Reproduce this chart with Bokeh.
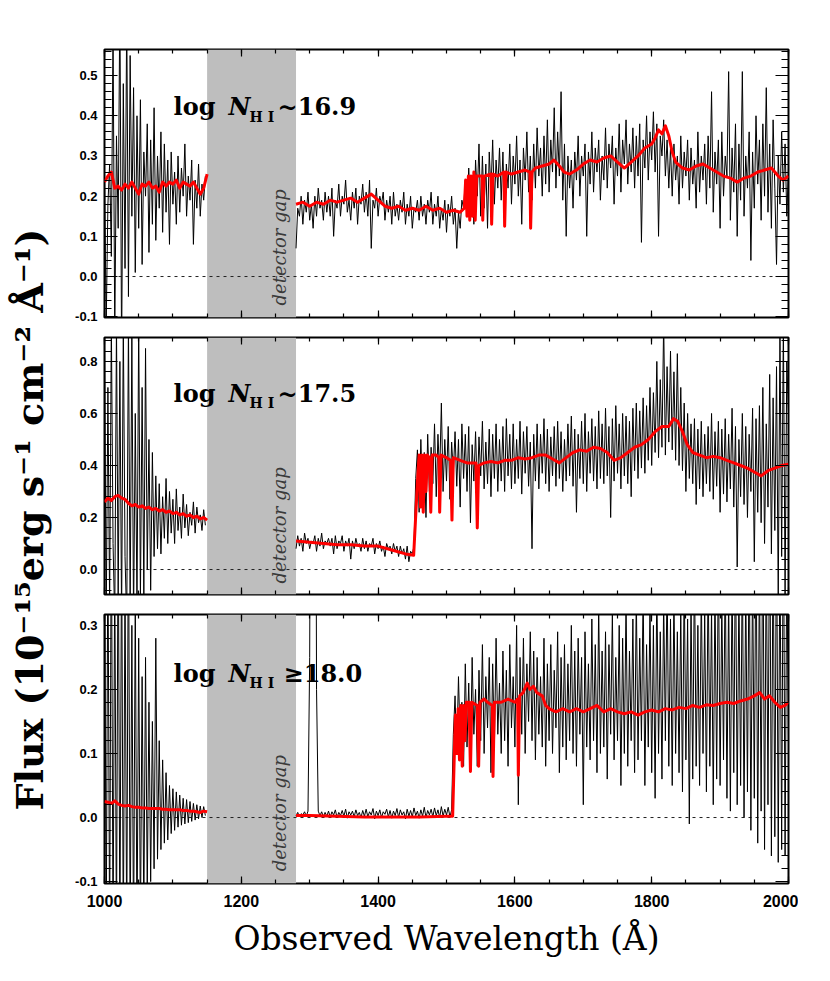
import numpy as np
from bokeh.plotting import figure
from bokeh.layouts import row, column
from bokeh.models import (Range1d, SingleIntervalTicker, LinearAxis,
                          PrintfTickFormatter, CustomJSTickFormatter,
                          BoxAnnotation, Span)
from bokeh.core.properties import value
from bokeh.embed import file_html
from bokeh.resources import INLINE

# ---------------------------------------------------------------- data
WAVE_RANGE = (1000, 2000)
GAP = (1150, 1280)

# observed spectra, sampled every 2.5 A (blue side 1000-1147.5, red side 1280-2000)
blue_wave = np.arange(1000, 1150, 2.5)
red_wave = np.arange(1280, 2000.1, 2.5)

flux1_blue = [.26, -.12, .18, .28, .05, .62, -.15, .35, .12, .70, -.2, .48, .02, .66, -.05, .55, .15, .47, .01, .40,
              .12, .44, .03, .31, .20, .38, .06, .34, .13, .42, .09, .30, .17, .36, .11, .33, .16, .29, .08, .31,
              .18, .26, .13, .30, .16, .27, .20, .33, .15, .25, .19, .29, .08, .24, .17, .28, .15, .23, .19, .25]
flux1_red = [.07, .17, .15, .20, .13, .19, .16, .21, .14, .18, .12, .20, .15, .22, .17, .19, .14, .21, .16, .20,
             .15, .22, .10, .19, .17, .23, .15, .20, .18, .24, .16, .19, .14, .21, .17, .22, .13, .20, .18, .23,
             .16, .21, .15, .24, .07, .19, .17, .22, .15, .20, .18, .21, .14, .19, .16, .20, .13, .21, .15, .18,
             .14, .19, .16, .21, .13, .18, .15, .20, .12, .17, .16, .19, .14, .20, .15, .18, .13, .19, .16, .21,
             .13, .18, .15, .20, .12, .17, .14, .19, .11, .18, .15, .20, .13, .17, .07, .16, .12, .19, .17, .24,
             .15, .27, .18, .25, .13, .29, .20, .33, .15, .30, .17, .28, .12, .31, .21, .34, .18, .29, .22, .32,
             .19, .31, .14, .28, .22, .33, .18, .30, .23, .35, .20, .29, .13, .32, .24, .36, .21, .30, .19, .33,
             .22, .37, .25, .32, .20, .35, .23, .39, .21, .34, .26, .42, .22, .36, .25, .46, .19, .33, .10, .30,
             .22, .29, .17, .31, .24, .35, .20, .30, .25, .33, .10, .31, .23, .36, .21, .32, .26, .34, .19, .30,
             .24, .37, .22, .33, .27, .35, .18, .32, .25, .38, .21, .34, .28, .39, .23, .33, .26, .37, .22, .35,
             .25, .38, .085, .34, .27, .40, .24, .36, .29, .41, .26, .38, .10, .35, .30, .39, .25, .34, .22, .32,
             .20, .33, .24, .30, .18, .35, .22, .31, .25, .34, .19, .32, .23, .29, .17, .36, .21, .30, .24, .33,
             .18, .35, .22, .46, .16, .31, .23, .34, .12, .36, .20, .30, .25, .51, .14, .32, .21, .38, .10, .33,
             .19, .51, .15, .30, .22, .36, .04, .31, .17, .40, .23, .34, .14, .38, .20, .47, .16, .33, .12, .39,
             .22, .03, .30, .18, .36, .21, .33, .15, .27]

flux2_blue = [.95, -.2, .7, -.15, .95, .1, -.2, .95, -.12, .8, -.2, .95, .05, -.2, .95, -.15, .9, -.2, .6, -.15,
              .95, -.12, .7, -.1, .85, .0, .5, -.08, .45, .05, .36, .08, .33, .06, .28, .12, .35, .10, .30, .14,
              .27, .10, .31, .15, .24, .12, .29, .16, .25, .13, .22, .17, .26, .14, .24, .18, .21, .15, .23, .17]
flux2_red = [.08, .13, .09, .12, .07, .14, .10, .12, .08, .11, .10, .13, .07, .12, .09, .14, .08, .11, .10, .12,
             .09, .12, .06, .13, .08, .11, .10, .13, .07, .11, .09, .12, .04, .11, .08, .12, .09, .10, .07, .12,
             .08, .11, .07, .10, .09, .12, .06, .10, .08, .11, .07, .09, .05, .10, .08, .09, .06, .10, .07, .09,
             .05, .09, .06, .08, .04, .09, .03, .07, .06, .09, .35, .46, .22, .50, .28, .45, .20, .52, .30, .47,
             .33, .56, .28, .52, .36, .64, .30, .50, .34, .55, .27, .49, .37, .53, .32, .50, .24, .56, .35, .52,
             .30, .55, .18, .48, .34, .53, .29, .51, .36, .57, .31, .49, .33, .54, .28, .52, .35, .56, .30, .50,
             .34, .55, .30, .58, .36, .52, .31, .56, .33, .50, .35, .57, .29, .53, .37, .55, .32, .49, .08, .52,
             .34, .56, .31, .52, .37, .58, .33, .54, .30, .51, .36, .55, .32, .57, .35, .53, .30, .50, .34, .56,
             .36, .59, .32, .54, .22, .52, .35, .57, .33, .60, .30, .53, .37, .58, .34, .55, .31, .61, .35, .56,
             .33, .62, .36, .55, .20, .58, .34, .63, .37, .56, .31, .60, .36, .59, .33, .57, .28, .62, .38, .64,
             .35, .61, .39, .66, .37, .63, .42, .70, .40, .68, .45, .80, .43, .73, .47, .95, .44, .78, .49, .84,
             .46, .76, .42, .83, .40, .70, .38, .64, .30, .60, .35, .56, .33, .58, .25, .54, .31, .57, .28, .52,
             .33, .55, .30, .60, .27, .53, .32, .57, .22, .54, .29, .58, .26, .52, .31, .62, .24, .55, .01, .50,
             .28, .60, .25, .55, .20, .52, .30, .62, .03, .58, .22, .63, .18, .70, .10, .56, .24, .75, .06, .66,
             .15, .78, -.12, .92, .05, .95, -.1, .8, .6]

flux3_blue = [.5, -.2, .45, -.2, .5, -.2, .4, -.2, .5, -.2, .45, -.2, .38, -.2, .5, -.2, .3, -.2, .35, -.2,
              .28, -.18, .22, -.15, .25, -.12, .18, -.1, .15, -.08, .28, -.065, .12, -.05, .09, -.04, .07, -.035, .05, -.025,
              .045, -.02, .04, -.015, .035, -.012, .03, -.01, .028, -.008, .025, -.006, .022, -.004, .02, -.002, .018, .0, .017, .003]
flux3_red = [.003, .008, .001, .006, .004, .009, .002, .01, .25, 1.2, 1.2, 1.2, .2, .01, .003, .009, .001, .008, .002, .01,
             .001, .009, .004, .012, .0, .008, .003, .011, .002, .013, -.001, .009, .004, .01, .001, .012, .003, .008, .0, .011,
             .002, .013, .001, .009, .004, .014, -.002, .01, .003, .012, .0, .009, .005, .013, .001, .011, -.001, .01, .003, .014,
             .0, .012, .004, .009, -.002, .013, .002, .011, .001, .015, .003, .01, -.001, .012, .002, .016, .0, .011, .004, .013,
             .001, .015, .003, .012, .0, .017, .002, .013, .004, .016, .001, .012, .13, .19, .10, .22, .12, .18, .08, .24,
             .11, .21, .09, .25, .13, .20, .08, .23, .12, .27, .10, .22, .14, .25, .07, .24, .11, .28, .13, .21,
             .10, .26, .12, .23, .08, .27, .14, .22, .11, .30, .02, .25, .13, .28, .10, .24, .15, .29, .12, .26,
             .09, .25, .13, .22, .11, .28, .08, .24, .12, .27, .10, .23, .14, .29, .07, .25, .11, .27, .09, .24,
             .12, .30, .10, .26, .08, .28, .13, .25, .02, .29, .11, .24, .09, .31, .12, .27, .07, .33, .10, .26,
             .11, .29, .06, .27, .13, .32, .09, .25, .12, .30, .05, .28, .10, .34, .08, .26, .12, .31, .07, .35,
             .09, .28, .12, .36, .05, .27, .11, .33, .07, .30, .03, .37, .10, .29, .06, .34, .12, .38, .08, .31,
             .05, .35, .10, .29, .07, .33, .04, .38, .09, .31, -.01, .34, .06, .40, .08, .30, .05, .36, .10, .32,
             .04, .39, .08, .33, .02, .36, .06, .42, .05, .34, .09, .40, .03, .35, .01, .38, .07, .44, .02, .36,
             .05, .41, .00, .37, .04, .45, -.02, .39, .03, .48, -.04, .40, .01, .50, -.05, .43, .02, .52, -.06, .46,
             -.03, .49, -.07, .44, -.05, .52, -.06, .41, .12]

# model (red) spectra: blue side every 5 A, red side as (wavelength, flux) pairs
model_blue_wave = np.arange(1000, 1151, 5)
model1_blue = [0.235, 0.25, 0.26, 0.22, 0.225, 0.215, 0.23, 0.22, 0.235, 0.22,
               0.205, 0.23, 0.225, 0.235, 0.22, 0.225, 0.21, 0.235, 0.225, 0.235,
               0.23, 0.24, 0.22, 0.235, 0.23, 0.225, 0.235, 0.22, 0.205, 0.22, 0.255]
model2_blue = [0.26, 0.275, 0.265, 0.28, 0.285, 0.275, 0.27, 0.255, 0.245, 0.25,
               0.24, 0.245, 0.235, 0.24, 0.23, 0.235, 0.225, 0.23, 0.22, 0.225,
               0.215, 0.22, 0.21, 0.215, 0.205, 0.21, 0.2, 0.205, 0.195, 0.2, 0.19]
model3_blue = [0.025, 0.024, 0.022, 0.026, 0.021, 0.019, 0.018, 0.019, 0.017, 0.016,
               0.016, 0.015, 0.015, 0.014, 0.014, 0.014, 0.014, 0.013, 0.013, 0.012,
               0.012, 0.012, 0.012, 0.011, 0.011, 0.010, 0.010, 0.009, 0.008, 0.010, 0.009]

model1_red = [(1280, 0.18), (1290, 0.185), (1300, 0.175), (1310, 0.185), (1320, 0.18),
              (1330, 0.19), (1340, 0.185), (1350, 0.19), (1360, 0.195), (1370, 0.185),
              (1380, 0.195), (1390, 0.205), (1400, 0.19), (1410, 0.175), (1420, 0.17),
              (1430, 0.175), (1440, 0.165), (1450, 0.17), (1460, 0.165), (1470, 0.175),
              (1480, 0.165), (1490, 0.17), (1500, 0.16), (1510, 0.165), (1520, 0.16),
              (1526, 0.17), (1528, 0.24), (1530, 0.15), (1532, 0.25), (1534, 0.14),
              (1536, 0.25), (1538, 0.15), (1540, 0.26), (1542, 0.14), (1544, 0.25),
              (1552, 0.25), (1553, 0.14), (1555, 0.25), (1565, 0.255), (1566, 0.13),
              (1568, 0.255), (1575, 0.25), (1584, 0.26), (1585, 0.125), (1587, 0.26),
              (1595, 0.255), (1605, 0.26), (1615, 0.265), (1622, 0.26), (1623, 0.12),
              (1625, 0.26), (1630, 0.27), (1640, 0.275), (1650, 0.28), (1657, 0.29),
              (1665, 0.275), (1672, 0.26), (1680, 0.255), (1690, 0.265), (1700, 0.28),
              (1710, 0.29), (1720, 0.285), (1730, 0.295), (1740, 0.30), (1750, 0.285),
              (1760, 0.27), (1770, 0.285), (1780, 0.30), (1790, 0.32), (1800, 0.33),
              (1805, 0.345), (1810, 0.365), (1815, 0.355), (1820, 0.375), (1825, 0.35),
              (1830, 0.31), (1835, 0.285), (1845, 0.27), (1855, 0.265), (1865, 0.275),
              (1875, 0.28), (1885, 0.27), (1895, 0.26), (1905, 0.25), (1915, 0.245),
              (1925, 0.235), (1935, 0.245), (1945, 0.25), (1955, 0.26), (1965, 0.265),
              (1975, 0.27), (1985, 0.25), (1992, 0.24), (2000, 0.25)]
model2_red = [(1280, 0.11), (1300, 0.105), (1320, 0.10), (1340, 0.095), (1360, 0.095),
              (1380, 0.09), (1400, 0.09), (1420, 0.075), (1440, 0.06), (1452, 0.055),
              (1458, 0.36), (1460, 0.44), (1462, 0.24), (1464, 0.44), (1466, 0.22),
              (1468, 0.44), (1470, 0.30), (1472, 0.44), (1475, 0.43), (1477, 0.22),
              (1479, 0.44), (1485, 0.44), (1489, 0.43), (1490, 0.22), (1492, 0.44),
              (1500, 0.43), (1506, 0.42), (1508, 0.19), (1510, 0.43), (1520, 0.42),
              (1530, 0.41), (1540, 0.41), (1543, 0.41), (1545, 0.16), (1547, 0.40),
              (1555, 0.41), (1565, 0.415), (1575, 0.41), (1585, 0.42), (1595, 0.42),
              (1605, 0.43), (1615, 0.425), (1625, 0.43), (1635, 0.44), (1645, 0.44),
              (1655, 0.425), (1665, 0.41), (1675, 0.43), (1685, 0.45), (1695, 0.46),
              (1705, 0.455), (1715, 0.47), (1725, 0.465), (1735, 0.45), (1745, 0.42),
              (1755, 0.43), (1765, 0.45), (1775, 0.47), (1785, 0.48), (1795, 0.50),
              (1805, 0.53), (1815, 0.55), (1825, 0.55), (1832, 0.58), (1838, 0.57),
              (1845, 0.53), (1852, 0.48), (1860, 0.45), (1870, 0.44), (1880, 0.43),
              (1890, 0.435), (1900, 0.43), (1910, 0.42), (1920, 0.41), (1930, 0.40),
              (1940, 0.39), (1950, 0.375), (1960, 0.36), (1970, 0.38), (1980, 0.39),
              (1990, 0.40), (2000, 0.405)]
model3_red = [(1280, 0.003), (1300, 0.003), (1340, 0.002), (1380, 0.001), (1420, 0.001),
              (1460, 0.001), (1500, 0.002), (1509, 0.002), (1513, 0.16), (1515, 0.10),
              (1517, 0.17), (1519, 0.09), (1521, 0.175), (1523, 0.08), (1525, 0.175),
              (1527, 0.12), (1529, 0.18), (1533, 0.18), (1535, 0.072), (1537, 0.18),
              (1545, 0.175), (1547, 0.08), (1549, 0.18), (1555, 0.185), (1560, 0.18),
              (1567, 0.175), (1568, 0.064), (1570, 0.18), (1580, 0.18), (1590, 0.185),
              (1600, 0.18), (1604, 0.185), (1605, 0.066), (1607, 0.19), (1612, 0.195),
              (1618, 0.21), (1622, 0.20), (1627, 0.205), (1632, 0.195), (1640, 0.19),
              (1645, 0.175), (1650, 0.17), (1660, 0.165), (1670, 0.17), (1680, 0.165),
              (1690, 0.17), (1700, 0.165), (1710, 0.17), (1720, 0.175), (1730, 0.165),
              (1740, 0.17), (1750, 0.165), (1760, 0.162), (1770, 0.165), (1780, 0.16),
              (1790, 0.165), (1800, 0.168), (1810, 0.165), (1820, 0.17), (1830, 0.168),
              (1840, 0.172), (1850, 0.17), (1860, 0.175), (1870, 0.172), (1880, 0.176),
              (1890, 0.175), (1900, 0.178), (1910, 0.18), (1920, 0.178), (1930, 0.182),
              (1940, 0.185), (1950, 0.19), (1958, 0.195), (1965, 0.185), (1972, 0.19),
              (1980, 0.18), (1988, 0.172), (1995, 0.175), (2000, 0.18)]

panel_values = ["~16.9", "~17.5", "\u226518.0"]
y_ranges = [(-0.102, 0.565), (-0.096, 0.892), (-0.103, 0.317)]
y_major = [0.1, 0.2, 0.1]
x_tick_step = 200

ylabel_text = "Flux (10\u207b\u00b9\u2075erg s\u207b\u00b9 cm\u207b\u00b2 \u00c5\u207b\u00b9)"
xlabel_text = "Observed Wavelength (\u00c5)"

# ---------------------------------------------------------------- layout / style
FRAME_W = 684
LEFT_W = 56
frame_heights = [268, 257, 269]
borders_top = [49, 10, 10]
borders_bottom = [10, 10, 80]
label_pos_y = [0.422, 0.677, 0.225]
gap_text_x = 1256
gap_text_y = [-0.072, -0.054, -0.084]
value_offsets = [104, 104, 110]
SERIF = "DejaVu Serif"
SANS = "Liberation Sans"
EMPTY = CustomJSTickFormatter(code="return ''")


def style_axis(ax, major_len, minor_len, labels, font_size, standoff=7):
    ax.major_tick_in = major_len
    ax.major_tick_out = 0
    ax.minor_tick_in = minor_len
    ax.minor_tick_out = 0
    ax.major_tick_line_width = 1.2
    ax.minor_tick_line_width = 1.2
    ax.major_tick_line_color = "black"
    ax.minor_tick_line_color = "black"
    ax.axis_line_color = None
    if labels:
        ax.major_label_text_font = SANS
        ax.major_label_text_font_style = "bold"
        ax.major_label_text_font_size = font_size
        ax.major_label_text_color = "black"
        ax.major_label_standoff = standoff
    else:
        ax.formatter = EMPTY
        ax.major_label_standoff = 0


obs_sets = [(flux1_blue, flux1_red), (flux2_blue, flux2_red), (flux3_blue, flux3_red)]
model_sets = [(model1_blue, model1_red), (model2_blue, model2_red), (model3_blue, model3_red)]

panels = []
x_range = Range1d(*WAVE_RANGE)
for i in range(3):
    ymin, ymax = y_ranges[i]
    p = figure(frame_width=FRAME_W, frame_height=frame_heights[i],
               x_range=x_range, y_range=Range1d(ymin, ymax),
               output_backend="svg", toolbar_location=None,
               min_border_left=48, min_border_right=10,
               min_border_top=borders_top[i], min_border_bottom=borders_bottom[i],
               background_fill_color="white", border_fill_color="white")
    p.grid.visible = False
    p.outline_line_color = "black"
    p.outline_line_width = 2

    xt = SingleIntervalTicker(interval=x_tick_step, num_minor_ticks=4)
    yt = SingleIntervalTicker(interval=y_major[i], num_minor_ticks=5)

    bottom_ax = p.xaxis[0]
    left_ax = p.yaxis[0]
    bottom_ax.ticker = xt
    left_ax.ticker = yt
    bottom_ax.formatter = PrintfTickFormatter(format="%d")
    left_ax.formatter = PrintfTickFormatter(format="%.1f")
    style_axis(bottom_ax, 7, 4, i == 2, "16px", standoff=11)
    style_axis(left_ax, 13, 7, True, "13px", standoff=7)

    top_ax = LinearAxis(ticker=xt)
    style_axis(top_ax, 7, 4, False, "0px")
    p.add_layout(top_ax, "above")
    right_ax = LinearAxis(ticker=yt)
    style_axis(right_ax, 13, 7, False, "0px")
    p.add_layout(right_ax, "right")

    if i == 2:
        bottom_ax.axis_label = xlabel_text
        bottom_ax.axis_label_text_font = SERIF
        bottom_ax.axis_label_text_font_style = "normal"
        bottom_ax.axis_label_text_font_size = "33px"
        bottom_ax.axis_label_text_color = "black"
        bottom_ax.axis_label_standoff = 9

    # detector gap band and zero line
    p.add_layout(BoxAnnotation(left=GAP[0], right=GAP[1], fill_color="#bebebe",
                               fill_alpha=1.0, line_color=None, level="underlay"))
    p.add_layout(Span(location=0, dimension="width", line_color="#222222",
                      line_width=1, line_dash="3 4", level="underlay"))

    # observed spectrum
    fb, fr = obs_sets[i]
    nb = min(len(blue_wave), len(fb))
    nr = min(len(red_wave), len(fr))
    p.line(blue_wave[:nb], fb[:nb], line_color="black", line_width=1.0, line_join="bevel")
    p.line(red_wave[:nr], fr[:nr], line_color="black", line_width=1.0, line_join="bevel")

    # model
    mb, mr = model_sets[i]
    p.line(model_blue_wave, mb, line_color="#ff0000", line_width=3, line_join="round")
    mw = [w for w, _ in mr]
    mf = [f for _, f in mr]
    p.line(mw, mf, line_color="#ff0000", line_width=3, line_join="round")

    # labels
    lx, ly = 1101, label_pos_y[i]
    p.text(x=[lx], y=[ly], text=["log"], text_font=value(SERIF), text_font_style="bold",
           text_font_size="24px", text_align="left", text_baseline="alphabetic",
           text_color="black")
    p.text(x=[lx], y=[ly], text=["N"], x_offset=55, text_font=value(SERIF),
           text_font_style="bold italic", text_font_size="24px", text_align="left",
           text_baseline="alphabetic", text_color="black")
    p.text(x=[lx], y=[ly], text=["H I"], x_offset=76, y_offset=10, text_font=value(SERIF),
           text_font_style="bold", text_font_size="14px", text_align="left",
           text_baseline="alphabetic", text_color="black")
    p.text(x=[lx], y=[ly], text=[panel_values[i]], x_offset=value_offsets[i],
           text_font=value(SERIF), text_font_style="bold", text_font_size="24px",
           text_align="left", text_baseline="alphabetic", text_color="black")
    p.text(x=[gap_text_x], y=[gap_text_y[i]], text=["detector gap"], angle=np.pi / 2,
           text_font=value(SERIF), text_font_style="italic", text_font_size="18px",
           text_align="left", text_baseline="alphabetic", text_color="#3a3a3a")
    panels.append(p)

total_h = sum(borders_top) + sum(frame_heights) + sum(borders_bottom)
pl = figure(frame_width=LEFT_W, frame_height=total_h, x_range=Range1d(0, LEFT_W),
            y_range=Range1d(total_h, 0), output_backend="svg", toolbar_location=None,
            min_border=0, x_axis_location=None, y_axis_location=None,
            outline_line_color=None, background_fill_color="white",
            border_fill_color="white")
pl.grid.visible = False
pl.text(x=[29], y=[519], text=[ylabel_text], angle=np.pi / 2, text_align="center",
        text_baseline="alphabetic", text_font=value(SERIF), text_font_style="bold",
        text_font_size="38px", text_color="black")

layout = row(pl, column(*panels))
open("out.html", "w").write(file_html(layout, INLINE))
